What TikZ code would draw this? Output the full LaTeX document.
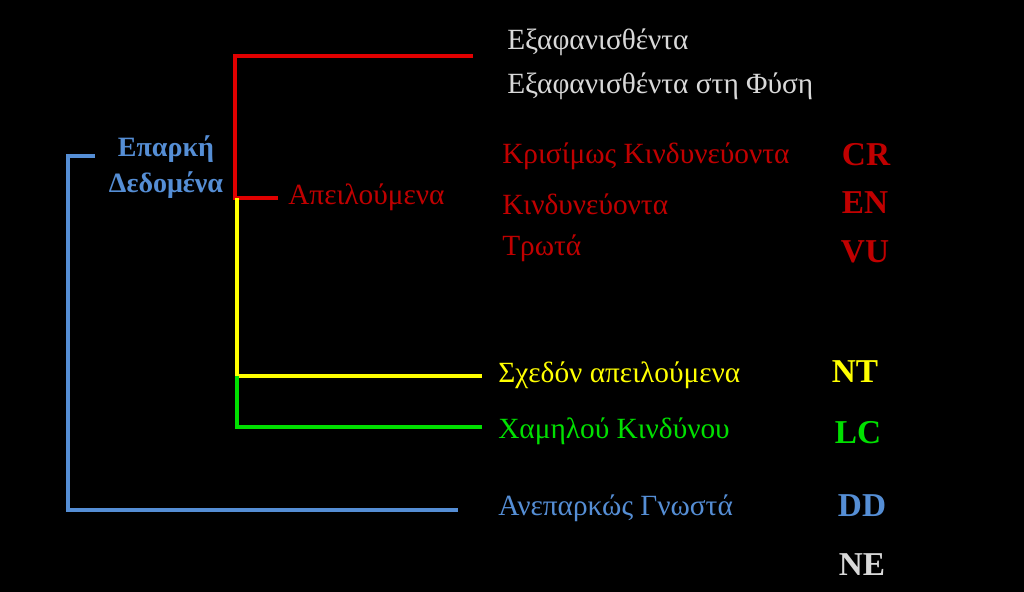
\documentclass[tikz,border=0pt]{standalone}
\usepackage{fontspec}
\setmainfont{Liberation Serif}
\definecolor{tred}{RGB}{192,0,0}
\definecolor{lred}{RGB}{225,0,0}
\definecolor{tyel}{RGB}{255,255,0}
\definecolor{tgrn}{RGB}{0,224,0}
\definecolor{tblu}{RGB}{85,142,213}
\definecolor{tgry}{RGB}{217,217,217}
\begin{document}
\begin{tikzpicture}[x=0.75pt,y=-0.75pt,
  lbl/.style={anchor=west,inner sep=0pt,font=\fontsize{22}{26}\selectfont},
  code/.style={anchor=center,inner sep=0pt,font=\fontsize{25}{28}\selectfont\bfseries},
  ln/.style={line width=2.6pt}]
\fill[black] (0,0) rectangle (1024,592);
\useasboundingbox (0,0) rectangle (1024,592);
% texts
\node[lbl,text=tgry] (ex) at (507,42) {Εξαφανισθέντα};
\node[lbl,text=tgry] (exw) at (507,86) {Εξαφανισθέντα στη Φύση};
\node[lbl,text=tred] (cr) at (502,156) {Κρισίμως Κινδυνεύοντα};
\node[lbl,text=tred] (en) at (502,204) {Κινδυνεύοντα};
\node[lbl,text=tred] (vu) at (502,248) {Τρωτά};
\node[lbl,text=tred] (thr) at (288,197) {Απειλούμενα};
\node[lbl,text=tyel] (nt) at (498,375) {Σχεδόν απειλούμενα};
\node[lbl,text=tgrn] (lc) at (498,431) {Χαμηλού Κινδύνου};
\node[lbl,text=tblu] (dd) at (498,508) {Ανεπαρκώς Γνωστά};
\node[anchor=center,inner sep=0pt,text=tblu,align=center,font=\fontsize{21}{27}\selectfont\bfseries] (ad) at (166,167) {Επαρκή\\Δεδομένα};
\node[code,text=tred] (ccr) at (866,155) {CR};
\node[code,text=tred] (cen) at (865,203) {EN};
\node[code,text=tred] (cvu) at (865,252) {VU};
\node[code,text=tyel] (cnt) at (855,372) {NT};
\node[code,text=tgrn] (clc) at (858,433) {LC};
\node[code,text=tblu] (cdd) at (862,506) {DD};
\node[code,text=tgry] (cne) at (862,565) {NE};
% coordinates of tree
\coordinate (rtop) at (235,56);
\coordinate (rtopE) at (473,56);
\coordinate (rmid) at (235,198);
\coordinate (rmidE) at (278,198);
\coordinate (ymid) at (237,198);
\coordinate (yb) at (237,376);
\coordinate (ybE) at (482,376);
\coordinate (gb) at (237,427);
\coordinate (gbE) at (482,427);
\coordinate (btop) at (68,156);
\coordinate (btopE) at (95,156);
\coordinate (bbot) at (68,510);
\coordinate (bbotE) at (458,510);
% connectors
\draw[ln,lred] (rtopE) -- (rtop) -- (rmid) -- (rmidE);
\draw[ln,tyel] (ymid) -- (yb) -- (ybE);
\draw[ln,tgrn] (yb) -- (gb) -- (gbE);
\draw[ln,tblu] (btopE) -- (btop) -- (bbot) -- (bbotE);
\end{tikzpicture}
\end{document}
